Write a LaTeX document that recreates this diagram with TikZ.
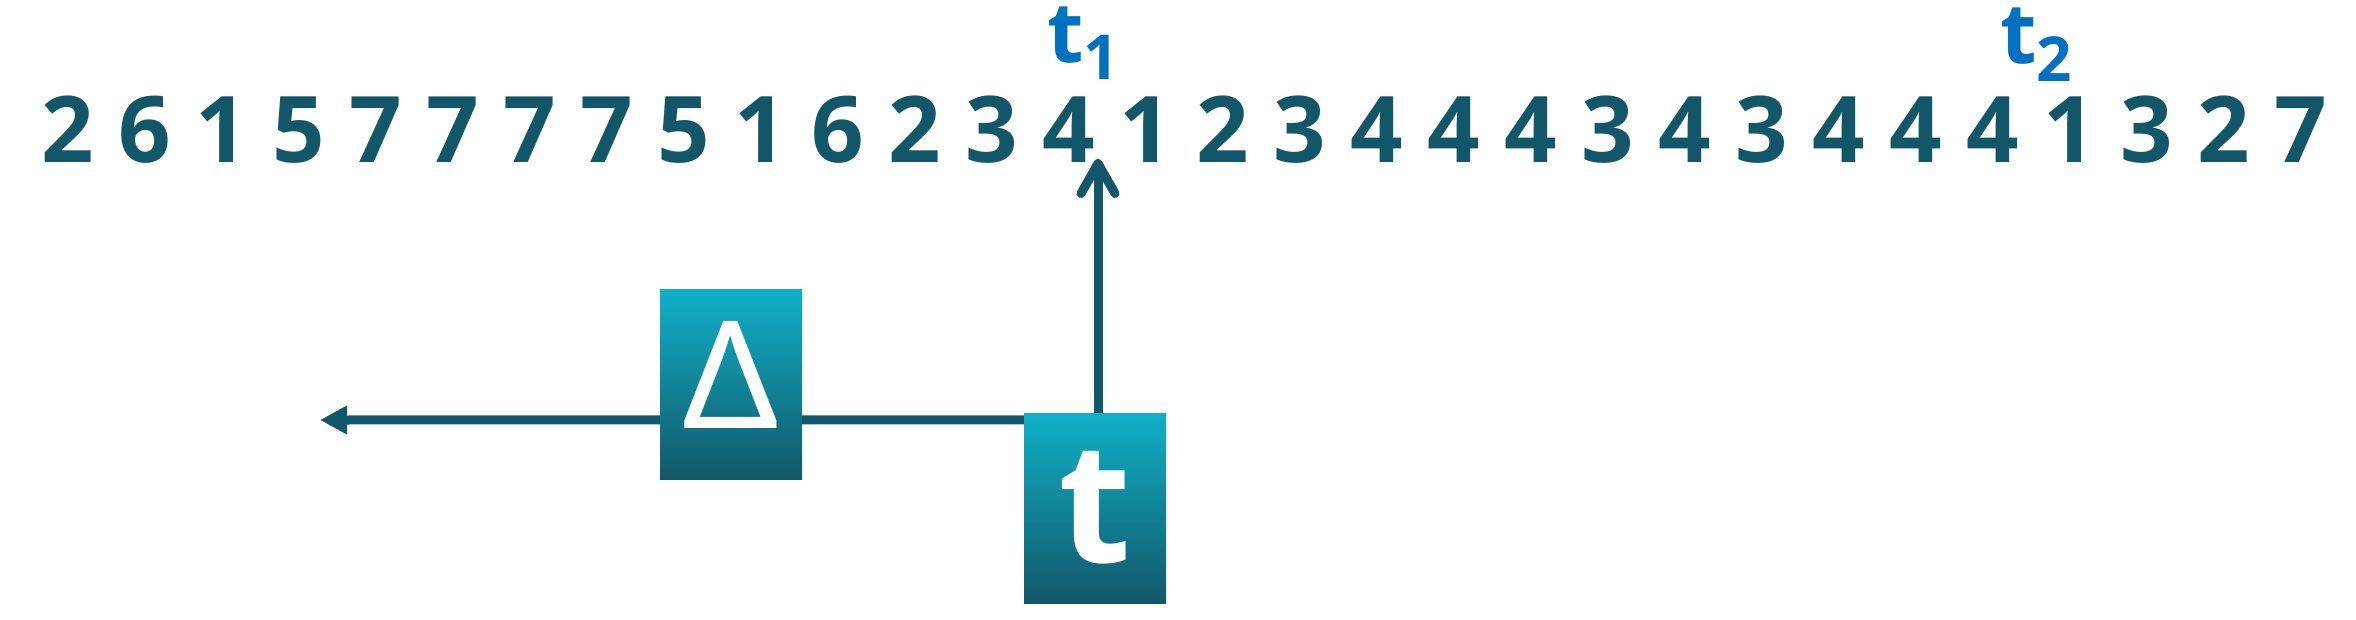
\documentclass[tikz,border=0pt]{standalone}
\usepackage{fontspec}
\setmainfont{Open Sans}
\usetikzlibrary{arrows.meta,backgrounds}

\definecolor{seqteal}{RGB}{18,87,105}
\definecolor{seqblue}{RGB}{0,112,192}
\definecolor{boxtop}{RGB}{16,176,200}

\tikzset{
  digit/.style={anchor=base, inner sep=0pt, text=seqteal, font=\fontsize{92}{92}\selectfont\bfseries},
  tlabel/.style={anchor=base west, inner sep=0pt, text=seqblue, font=\fontsize{84}{84}\selectfont\bfseries},
  gradbox/.style={rectangle, minimum width=142pt, minimum height=190pt, inner sep=0pt, top color=boxtop, bottom color=seqteal, text=white},
  link/.style={draw=seqteal, line width=9pt},
}

\begin{document}
\begin{tikzpicture}[x=1pt,y=-1pt]
\useasboundingbox (0,0) rectangle (2356,619);

% the sequence
\foreach \d [count=\i from 0] in {2,6,1,5,7,7,7,7,5,1,6,2,3,4,1,2,3,4,4,4,3,4,3,4,4,4,1,3,2,7}
  \node[digit] (d\i) at ({68+77*\i},162) {\d};

\node[tlabel] (t1) at (1047,62) {t\raisebox{-17pt}{\fontsize{62}{62}\selectfont 1}};
\node[tlabel] (t2) at (2000,63) {t\raisebox{-18pt}{\fontsize{62}{62}\selectfont 2}};

% boxes
\node[gradbox, font=\fontsize{150}{150}\selectfont] (delta) at (731,384.5) {\raisebox{19pt}{\scalebox{1.15}[1]{Δ}}};
\node[gradbox, font=\fontsize{168}{168}\selectfont\bfseries] (tbox) at (1095,508) {t};

\coordinate (up) at (1098,159);
\coordinate (left) at (320,420);
\draw[link, -{Straight Barb[length=30pt,width=34pt,round]}] (tbox.north -| up) -- (up);
\begin{scope}[on background layer]
\draw[link, -{Triangle[length=27pt,width=27pt]}] ([yshift=-7pt]tbox.north west) -- (left);
\end{scope}

\end{tikzpicture}
\end{document}
